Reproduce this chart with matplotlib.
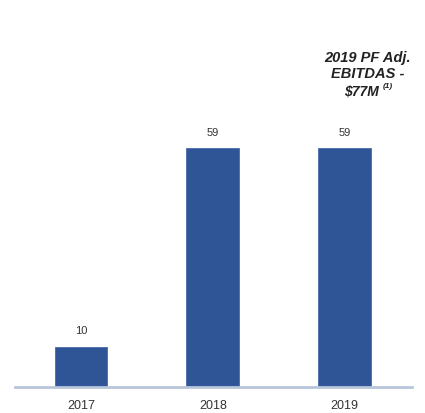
import matplotlib.pyplot as plt

years = ["2017", "2018", "2019"]
values = [10, 59, 59]
value_labels = ["10", "59", "59"]
note_lines = "2019 PF Adj.\nEBITDAS -"
note_amount = r"\$77M"
note_ref = "(1)"

plt.rcParams["font.family"] = ["Liberation Sans", "DejaVu Sans"]

fig = plt.figure(figsize=(4.25, 4.14), dpi=100)
ax = fig.add_axes([15 / 425, 26 / 414, 397 / 425, 348 / 414])

x = range(len(years))
ax.bar(x, values, width=0.4, color="#2f5597", edgecolor="#4a6aa8", linewidth=0.6, zorder=2)

for xi, v, lab in zip(x, values, value_labels):
    ax.annotate(lab, (xi, v), xytext=(0, 8), textcoords="offset points",
                ha="center", va="bottom", fontsize=8, color="#333333")

ax.set_xlim(-0.5, 2.51)
ax.set_ylim(0, 86)
ax.set_xticks(list(x))
ax.set_xticklabels(years, fontsize=9, color="#333333")
ax.tick_params(axis="x", length=0, pad=9)
ax.set_yticks([])
for s in ["top", "right", "left"]:
    ax.spines[s].set_visible(False)
ax.spines["bottom"].set_color("#b8c6dc")
ax.spines["bottom"].set_linewidth(2)

# note above the 2019 bar
ax.text(2.175, 83.4, note_lines, ha="center", va="top", fontsize=10.5,
        fontweight="bold", fontstyle="italic", color="#222222", linespacing=1.25)
ax.text(2.255, 75.0, note_amount, ha="right", va="top", fontsize=10,
        fontweight="bold", fontstyle="italic", color="#222222")
ax.text(2.285, 75.4, note_ref, ha="left", va="top", fontsize=6,
        fontweight="bold", fontstyle="italic", color="#222222")

fig.savefig("out.png", dpi=100)
